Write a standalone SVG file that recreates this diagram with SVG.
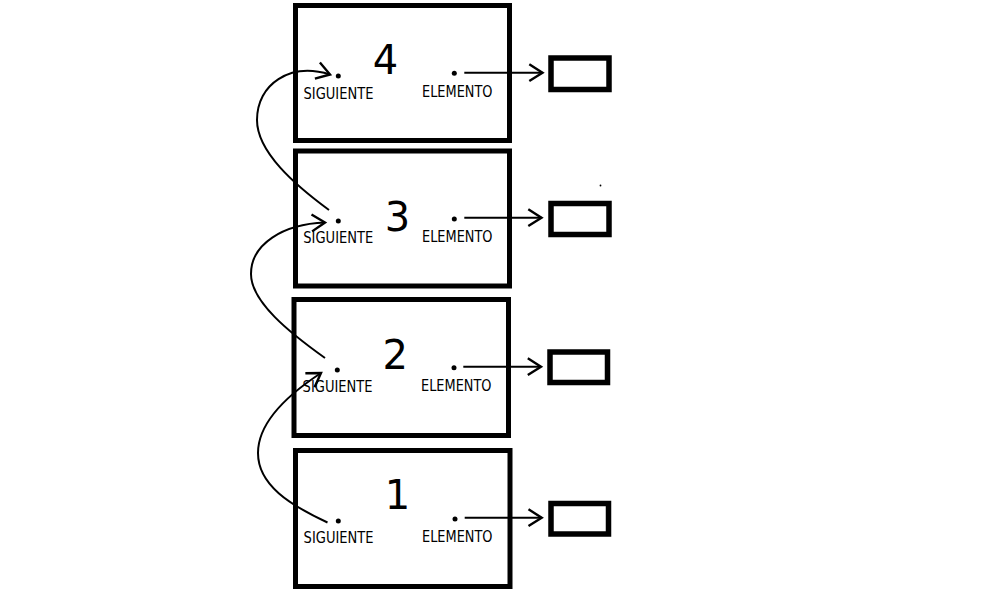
<svg xmlns="http://www.w3.org/2000/svg" width="1000" height="600" viewBox="0 0 1000 600">
<style>
.box{fill:none;stroke:#000;stroke-width:5}
.val{fill:none;stroke:#000;stroke-width:5.5}
.num{font-family:"DejaVu Sans","Liberation Sans",sans-serif;font-size:40px;fill:#000;text-anchor:middle}
.lbl{font-family:"DejaVu Sans","Liberation Sans",sans-serif;font-size:14px;fill:#000}
.dot{fill:#000}
.conn{fill:none;stroke:#000;stroke-width:2}
</style>
<defs>
<marker id="arr" markerUnits="userSpaceOnUse" markerWidth="24" markerHeight="24" viewBox="-14 -10 16 20" refX="0" refY="0" orient="auto">
<path d="M -11 -7 L 0 0 L -11 7" fill="none" stroke="#000" stroke-width="2"/>
</marker>
</defs>
<rect width="1000" height="600" fill="#fff"/>
<g id="node4">
<rect class="box" x="295.5" y="5.5" width="214" height="135"/>
<text class="num" x="385.5" y="74">4</text>
<circle class="dot" cx="338.3" cy="76" r="2.5"/>
<circle class="dot" cx="454.3" cy="73.3" r="2.5"/>
<text class="lbl" transform="translate(303.5 98.6) scale(1 1.08)" textLength="70" lengthAdjust="spacingAndGlyphs">SIGUIENTE</text>
<text class="lbl" transform="translate(422 97.3) scale(1 1.08)" textLength="70.5" lengthAdjust="spacingAndGlyphs">ELEMENTO</text>
</g>
<g id="node3">
<rect class="box" x="295.5" y="151" width="214" height="135"/>
<text class="num" x="397.5" y="231">3</text>
<circle class="dot" cx="338.3" cy="221" r="2.5"/>
<circle class="dot" cx="454.3" cy="219" r="2.5"/>
<text class="lbl" transform="translate(303.3 243.3) scale(1 1.08)" textLength="70" lengthAdjust="spacingAndGlyphs">SIGUIENTE</text>
<text class="lbl" transform="translate(422 242) scale(1 1.08)" textLength="70.5" lengthAdjust="spacingAndGlyphs">ELEMENTO</text>
</g>
<g id="node2">
<rect class="box" x="294" y="299.5" width="214.5" height="136"/>
<text class="num" x="395.3" y="369.3">2</text>
<circle class="dot" cx="337.3" cy="370" r="2.5"/>
<circle class="dot" cx="454" cy="367.7" r="2.5"/>
<text class="lbl" transform="translate(302.6 392.3) scale(1 1.08)" textLength="70" lengthAdjust="spacingAndGlyphs">SIGUIENTE</text>
<text class="lbl" transform="translate(421 390.7) scale(1 1.08)" textLength="70.5" lengthAdjust="spacingAndGlyphs">ELEMENTO</text>
</g>
<g id="node1">
<rect class="box" x="295.5" y="450.5" width="214.5" height="136"/>
<text class="num" x="397.5" y="509">1</text>
<circle class="dot" cx="338.3" cy="521" r="2.5"/>
<circle class="dot" cx="455" cy="519" r="2.5"/>
<text class="lbl" transform="translate(303.6 542.7) scale(1 1.08)" textLength="70" lengthAdjust="spacingAndGlyphs">SIGUIENTE</text>
<text class="lbl" transform="translate(422 541.7) scale(1 1.08)" textLength="70.5" lengthAdjust="spacingAndGlyphs">ELEMENTO</text>
</g>
<g id="elem4"><rect class="val" x="551" y="58" width="58" height="31.5"/></g>
<g id="elem3"><rect class="val" x="551" y="203.5" width="58" height="31"/></g>
<g id="elem2"><rect class="val" x="550" y="352" width="57.5" height="30.5"/></g>
<g id="elem1"><rect class="val" x="551" y="503.5" width="57.5" height="30.5"/></g>
<circle cx="600.5" cy="185.5" r="0.9" fill="#000"/>
<g id="connectors">
<path class="conn" d="M 464.3 72.7 L 542.5 72.7" marker-end="url(#arr)"/>
<path class="conn" d="M 464.3 217.7 L 541.5 217.7" marker-end="url(#arr)"/>
<path class="conn" d="M 463.3 366.7 L 541 366.7" marker-end="url(#arr)"/>
<path class="conn" d="M 464.7 517.7 L 541.7 517.7" marker-end="url(#arr)"/>
<path class="conn" d="M 329 210 C 295 185 257 152 257 120 C 257 84 290 62 330 74.5" marker-end="url(#arr)"/>
<path class="conn" d="M 325 358 C 290 333 251 302 251 274 C 251 244 283 224 325 222.5" marker-end="url(#arr)"/>
<path class="conn" d="M 327.5 522.5 C 290 505 258 485 258 453 C 258 420 292 392 321 373" marker-end="url(#arr)"/>
</g>
</svg>
